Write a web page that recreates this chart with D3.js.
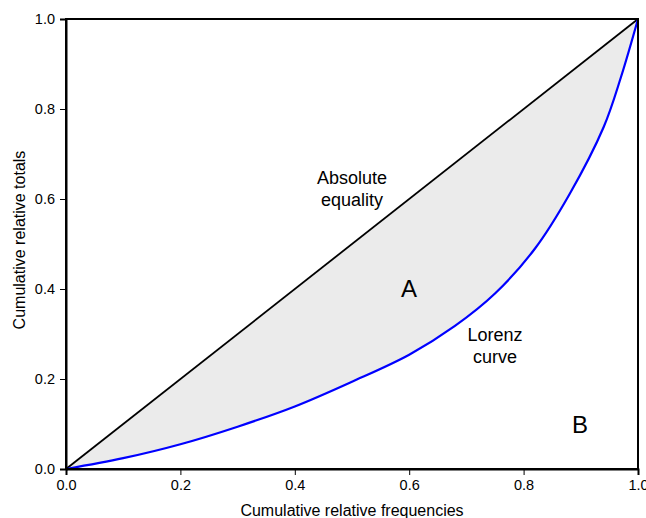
<!DOCTYPE html>
<html>
<head>
<meta charset="utf-8">
<script src="https://cdn.jsdelivr.net/npm/d3@7.9.0/dist/d3.min.js"></script>
<style>
  body { margin: 0; background: #fff; }
  svg { font-family: Arial, "Liberation Sans", sans-serif; }
</style>
</head>
<body>
<svg id="chart" width="646" height="518"></svg>
<script>
// data
const lorenzX = [0, 0.1, 0.2, 0.3, 0.4, 0.5, 0.6, 0.68, 0.75, 0.82, 0.88, 0.94, 0.97, 1.0];
const lorenzY = [0, 0.024, 0.055, 0.094, 0.139, 0.194, 0.254, 0.318, 0.39, 0.49, 0.61, 0.76, 0.87, 1.0];
const equalityX = [0, 1];
const equalityY = [0, 1];
const tickValues = [0, 0.2, 0.4, 0.6, 0.8, 1.0];

const margin = { top: 19, right: 8, bottom: 49, left: 66 };
const width = 646, height = 518;

const svg = d3.select("#chart");
const x = d3.scaleLinear().domain([0, 1]).range([margin.left, width - margin.right]);
const y = d3.scaleLinear().domain([0, 1]).range([height - margin.bottom, margin.top]);

const lorenz = lorenzX.map((v, i) => [v, lorenzY[i]]);
const equality = equalityX.map((v, i) => [v, equalityY[i]]);
const smooth = d3.curveCatmullRom.alpha(0.5);

// shaded area between equality line and Lorenz curve
const area = d3.area()
  .x(d => x(d[0]))
  .y0(d => y(d[0]))
  .y1(d => y(d[1]))
  .curve(smooth);

svg.append("path")
  .datum(lorenz)
  .attr("d", area)
  .attr("fill", "#ebebeb");

const line = d3.line().x(d => x(d[0])).y(d => y(d[1]));

svg.append("path")
  .datum(equality)
  .attr("d", line)
  .attr("fill", "none")
  .attr("stroke", "#000")
  .attr("stroke-width", 1.8);

svg.append("path")
  .datum(lorenz)
  .attr("d", line.curve(smooth))
  .attr("fill", "none")
  .attr("stroke", "#0000ff")
  .attr("stroke-width", 2.2);

// frame
svg.append("rect")
  .attr("x", x(0)).attr("y", y(1))
  .attr("width", x(1) - x(0)).attr("height", y(0) - y(1))
  .attr("fill", "none")
  .attr("stroke", "#000")
  .attr("stroke-width", 2);

const fmt = d3.format(".1f");

const xAxis = svg.append("g")
  .attr("transform", `translate(0,${y(0)})`)
  .call(d3.axisBottom(x).tickValues(tickValues).tickFormat(fmt).tickSize(6).tickPadding(5));

const yAxis = svg.append("g")
  .attr("transform", `translate(${x(0)},0)`)
  .call(d3.axisLeft(y).tickValues(tickValues).tickFormat(fmt).tickSize(6).tickPadding(5));

[xAxis, yAxis].forEach(g => {
  g.select(".domain").attr("stroke", "#000").attr("stroke-width", 2);
  g.selectAll(".tick line").attr("stroke", "#000").attr("stroke-width", 1);
  g.selectAll(".tick text")
    .attr("fill", "#000")
    .style("font-size", "14.5px")
    .style("font-family", "Arial, 'Liberation Sans', sans-serif");
});

// axis titles
svg.append("text")
  .attr("x", x(0.5))
  .attr("y", 516)
  .attr("text-anchor", "middle")
  .style("font-size", "16px")
  .text("Cumulative relative frequencies");

svg.append("text")
  .attr("transform", `translate(25,${y(0.5) - 4}) rotate(-90)`)
  .attr("text-anchor", "middle")
  .style("font-size", "16px")
  .text("Cumulative relative totals");

// annotations
const note = (lines, cx, baseline, size) => {
  const t = svg.append("text")
    .attr("text-anchor", "middle")
    .style("font-size", size + "px");
  lines.forEach((s, i) => {
    t.append("tspan").attr("x", cx).attr("y", baseline + i * 21.5).text(s);
  });
};

note(["Absolute", "equality"], 352, 184, 18);
note(["Lorenz", "curve"], 495, 341, 18);
note(["A"], 409, 297, 24);
note(["B"], 580, 433, 24);
</script>
</body>
</html>
